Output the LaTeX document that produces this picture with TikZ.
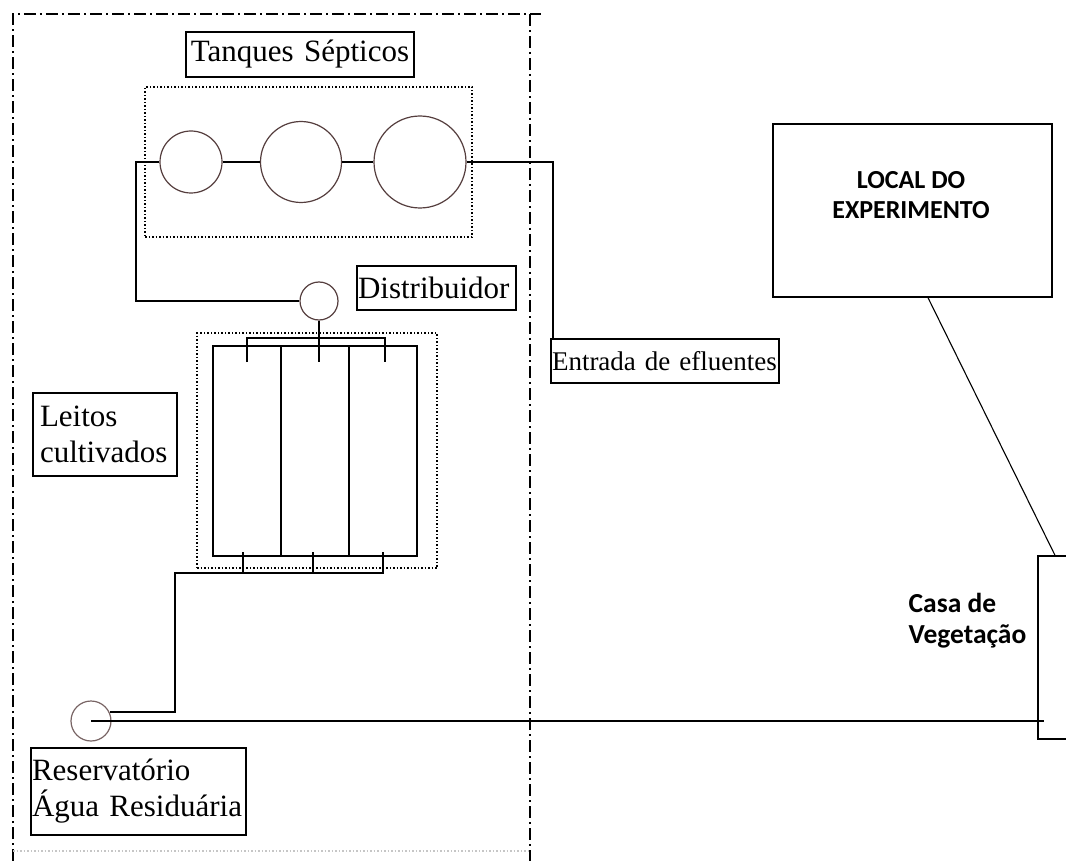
\documentclass[tikz,border=0pt]{standalone}
\usepackage{fontspec}
\setmainfont{Liberation Serif}
\newfontfamily\carlito{Carlito}
\usepackage{tikz}
\usetikzlibrary{calc, positioning}
\definecolor{tankline}{RGB}{85,62,62}
\definecolor{resline}{RGB}{120,100,100}

\begin{document}
\begin{tikzpicture}[
  x=1pt, y=-1pt,
  pipe/.style={line width=1.6pt},
  border/.style={line width=1.8pt, dash pattern=on 12pt off 4pt on 2pt off 4pt},
  area/.style={draw, line width=1.4pt, dash pattern=on 1.5pt off 2pt},
  lbl/.style={draw, line width=1.4pt, inner xsep=1pt, inner ysep=0pt, align=left,
              font=\fontsize{31}{36}\selectfont},
  tank/.style={circle, draw=tankline, line width=1.2pt, inner sep=0pt},
  sanslbl/.style={font=\carlito\bfseries\fontsize{26}{29.5}\selectfont, inner sep=0pt}
]
\useasboundingbox (0,0) rectangle (1066,861);
\clip (0,0) rectangle (1066,861);
\draw[border] (13,861) -- (13,14) -- (541,14);
\draw[border] (530,14) -- (530,861);
\draw[gray!45, line width=1.2pt, dash pattern=on 1.5pt off 2pt] (13,851) -- (530,851);
\node[lbl, text width=226pt, minimum height=45pt, align=center] (tqlbl) at (300,54.5) {Tanques Sépticos};
\node[area, minimum width=327pt, minimum height=150pt] (tqarea) at (308.5,162) {};
\node[tank, minimum size=62pt] (t1) at (191,162) {};
\node[tank, minimum size=81pt] (t2) at (301,162) {};
\node[tank, minimum size=92pt] (t3) at (420,162) {};
\node[tank, minimum size=38pt] (dist) at (319,301) {};
\node[lbl, text width=157pt, minimum height=44pt] (distlbl) at (436.5,288) {Distribuidor};
\node[lbl, text width=226pt, minimum height=44pt, font=\fontsize{27}{33}\selectfont] (entlbl) at (665,361) {\mbox{Entrada de efluentes}};
\node[area, minimum width=240pt, minimum height=235pt] (bedarea) at (317,450.5) {};
\node[draw, line width=1.4pt, minimum width=204pt, minimum height=210pt] (beds) at (315,451) {};
\node[lbl, inner xsep=7pt, text width=130pt, minimum height=83pt] (leitoslbl) at (105,434.5) {Leitos\\cultivados};
\node[tank, draw=resline, minimum size=40pt] (res) at (91,721) {};
\node[lbl, text width=213pt, minimum height=87pt] (reslbl) at (138.5,791.5) {Reservatório\\Água Residuária};
\node[draw, line width=1.4pt, minimum width=279pt, minimum height=173pt] (local) at (912.5,210.5) {};
\node[sanslbl, align=center] (localtxt) at (911,195) {LOCAL DO\\EXPERIMENTO};
\node[draw, line width=1.4pt, minimum width=60pt, minimum height=183pt] (casa) at (1068,647.5) {};
\node[sanslbl, align=left, font=\carlito\bfseries\fontsize{27.5}{31}\selectfont] (casatxt) at (967.5,621) {Casa de\\Vegetação};
\coordinate (bendL) at (136,162);
\coordinate (bendR) at (553,162);
\draw[pipe] (t1.east) -- (t2.west);
\draw[pipe] (t2.east) -- (t3.west);
\draw[pipe] (t1.west) -- (bendL) |- (dist.west);
\draw[pipe] (t3.east) -- (bendR) -- (bendR |- entlbl.north);
\draw[pipe] ([xshift=-34pt]beds.north) -- ([xshift=-34pt]beds.south);
\draw[pipe] ([xshift=34pt]beds.north) -- ([xshift=34pt]beds.south);
\draw[pipe] (dist.south) -- (319,362);
\draw[pipe] (247,362) -- (247,338) -- (385,338) -- (385,362);
\draw[pipe] (243,552) -- (243,573);
\draw[pipe] (313,552) -- (313,573);
\draw[pipe] (383,552) -- (383,573) -- (175,573) |- (res.25);
\draw[pipe, shorten >=-7pt] (res.center) -- (casa.west |- res.center);
\draw[line width=1.1pt] ([xshift=15.5pt]local.south) -- ([xshift=-13pt]casa.north);
\end{tikzpicture}
\end{document}
